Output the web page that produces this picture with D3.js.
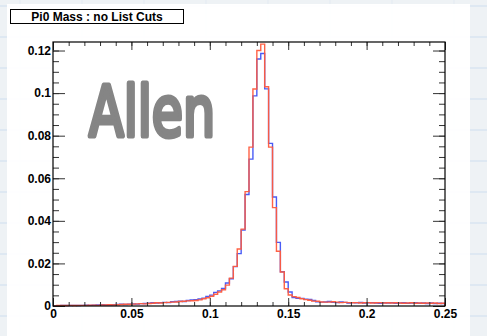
<!DOCTYPE html>
<html><head><meta charset="utf-8">
<script src="https://cdn.jsdelivr.net/npm/d3@7"></script>
<style>
html,body{margin:0;padding:0;background:#eef2f5;}
svg{display:block;}
</style></head>
<body>
<script>
// ---- data ----
const binWidth = 0.0025;
const binStart = 0;
const redValues = [
0.0000,0.0002,0.0002,0.0002,0.0003,0.0002,0.0003,0.0003,0.0003,0.0004,
0.0004,0.0003,0.0005,0.0005,0.0006,0.0005,0.0006,0.0007,0.0008,0.0008,
0.0009,0.0010,0.0011,0.0010,0.0012,0.0013,0.0015,0.0014,0.0016,0.0017,
0.0018,0.0019,0.0021,0.0022,0.0024,0.0025,0.0026,0.0029,0.0034,0.0039,
0.0046,0.0055,0.0066,0.0076,0.0098,0.0131,0.0186,0.0268,0.0361,0.0537,
0.0746,0.1019,0.1200,0.1230,0.1030,0.0746,0.0462,0.0257,0.0160,0.0081,
0.0052,0.0044,0.0040,0.0034,0.0030,0.0027,0.0023,0.0022,0.0019,0.0018,
0.0018,0.0020,0.0018,0.0016,0.0017,0.0016,0.0015,0.0016,0.0014,0.0015,
0.0016,0.0014,0.0015,0.0016,0.0014,0.0015,0.0014,0.0015,0.0014,0.0013,
0.0014,0.0015,0.0013,0.0014,0.0013,0.0014,0.0013,0.0014,0.0012,0.0013
];
const blueValues = [
0.0000,0.0001,0.0002,0.0002,0.0002,0.0003,0.0002,0.0003,0.0004,0.0003,
0.0004,0.0005,0.0006,0.0005,0.0005,0.0006,0.0007,0.0008,0.0007,0.0009,
0.0010,0.0009,0.0011,0.0012,0.0013,0.0015,0.0014,0.0016,0.0017,0.0016,
0.0020,0.0021,0.0023,0.0021,0.0026,0.0029,0.0030,0.0033,0.0037,0.0045,
0.0051,0.0064,0.0071,0.0082,0.0108,0.0128,0.0185,0.0246,0.0357,0.0524,
0.0690,0.0987,0.1160,0.1186,0.1020,0.0764,0.0512,0.0299,0.0161,0.0113,
0.0066,0.0040,0.0036,0.0036,0.0032,0.0031,0.0026,0.0020,0.0018,0.0019,
0.0021,0.0017,0.0016,0.0019,0.0017,0.0014,0.0016,0.0015,0.0017,0.0014,
0.0015,0.0016,0.0014,0.0013,0.0015,0.0014,0.0015,0.0013,0.0014,0.0015,
0.0013,0.0014,0.0015,0.0013,0.0014,0.0012,0.0014,0.0011,0.0013,0.0012
];
const xMajorTicks = [0, 0.05, 0.1, 0.15, 0.2, 0.25];
const xTickLabels = ["0","0.05","0.1","0.15","0.2","0.25"];
const yMajorTicks = [0, 0.02, 0.04, 0.06, 0.08, 0.1, 0.12];
const yTickLabels = ["0","0.02","0.04","0.06","0.08","0.1","0.12"];
const titleText = "Pi0 Mass : no List Cuts";
const stampText = "Allen";

// ---- layout ----
const W = 487, H = 336;
const L = 53, R = 445, T = 42, B = 306;
const svg = d3.select("body").append("svg").attr("width", W).attr("height", H);

// faint background pattern
const bg = svg.append("g");
d3.range(0, H, 31).forEach((yy) => {
  bg.append("line").attr("x1",0).attr("x2",W).attr("y1",yy+6).attr("y2",yy+6)
    .attr("stroke","#d9e5f1").attr("stroke-width",1.5);
});
d3.range(0, W, 62).forEach((xx) => {
  bg.append("line").attr("x1",xx+20).attr("x2",xx+20).attr("y1",0).attr("y2",H)
    .attr("stroke","#e3eaf2").attr("stroke-width",1);
});
svg.append("rect").attr("x",7).attr("y",4).attr("width",463).attr("height",H-4)
  .attr("fill","#ffffff").attr("opacity",0.95);

const x = d3.scaleLinear().domain([0, 0.25]).range([L, R]);
const y = d3.scaleLinear().domain([0, 0.124]).range([B, T]);

// plot area
svg.append("rect").attr("x",L).attr("y",T).attr("width",R-L).attr("height",B-T).attr("fill","#fff");

// stamp text
svg.append("text").attr("x", 89).attr("y", 136)
  .attr("font-family","'DejaVu Sans', sans-serif").attr("font-weight","normal")
  .attr("font-size",70).attr("fill","#858585")
  .attr("stroke","#858585").attr("stroke-width",5).attr("stroke-linejoin","round")
  .attr("stroke-linecap","round")
  .attr("textLength",126).attr("lengthAdjust","spacingAndGlyphs")
  .text(stampText);

// histograms
function stepPath(vals){
  const p = d3.path();
  p.moveTo(x(binStart), y(0));
  vals.forEach((v,i) => {
    const x0 = x(binStart + i*binWidth), x1 = x(binStart + (i+1)*binWidth);
    p.lineTo(x0, y(v));
    p.lineTo(x1, y(v));
  });
  p.lineTo(x(binStart + vals.length*binWidth), y(0));
  return p.toString();
}
svg.append("path").attr("d", stepPath(blueValues)).attr("fill","none")
  .attr("stroke","#4a5cf5").attr("stroke-width",1.4);
svg.append("path").attr("d", stepPath(redValues)).attr("fill","none")
  .attr("stroke","#ff5a3c").attr("stroke-width",1.4).attr("opacity",0.95);

// axes
const font = "'Liberation Sans', Arial, Helvetica, sans-serif";
const tickCol = "#333";
const yMinor = d3.range(0, 0.1226, 0.005);
const xMinor = d3.range(0, 0.2501, 0.01);

function styleAxis(g){
  g.select(".domain").remove();
  g.selectAll("line").attr("stroke", tickCol);
  g.selectAll("text").attr("font-family", font).attr("font-weight","bold")
    .attr("font-size",12).attr("fill","#000");
}
// left
svg.append("g").attr("transform",`translate(${L},0)`)
  .call(d3.axisLeft(y).tickValues(yMinor).tickSize(-6).tickFormat("")).call(styleAxis);
svg.append("g").attr("transform",`translate(${L},0)`)
  .call(d3.axisLeft(y).tickValues(yMajorTicks).tickSize(-12).tickPadding(2)
    .tickFormat((d,i)=>yTickLabels[i])).call(styleAxis);
// right
svg.append("g").attr("transform",`translate(${R},0)`)
  .call(d3.axisRight(y).tickValues(yMinor).tickSize(-6).tickFormat("")).call(styleAxis);
svg.append("g").attr("transform",`translate(${R},0)`)
  .call(d3.axisRight(y).tickValues(yMajorTicks).tickSize(-12).tickFormat("")).call(styleAxis);
// bottom
svg.append("g").attr("transform",`translate(0,${B})`)
  .call(d3.axisBottom(x).tickValues(xMinor).tickSize(-4).tickFormat("")).call(styleAxis);
svg.append("g").attr("transform",`translate(0,${B})`)
  .call(d3.axisBottom(x).tickValues(xMajorTicks).tickSize(-8).tickPadding(3)
    .tickFormat((d,i)=>xTickLabels[i])).call(styleAxis);
// top
svg.append("g").attr("transform",`translate(0,${T})`)
  .call(d3.axisTop(x).tickValues(xMinor).tickSize(-4).tickFormat("")).call(styleAxis);
svg.append("g").attr("transform",`translate(0,${T})`)
  .call(d3.axisTop(x).tickValues(xMajorTicks).tickSize(-8).tickFormat("")).call(styleAxis);

// frame
svg.append("rect").attr("x",L).attr("y",T).attr("width",R-L).attr("height",B-T)
  .attr("fill","none").attr("stroke","#000").attr("stroke-width",1.2);

// title box
svg.append("rect").attr("x",10.5).attr("y",9.5).attr("width",173).attr("height",14)
  .attr("fill","#fff").attr("stroke","#000").attr("stroke-width",1);
svg.append("text").attr("x",97).attr("y",21).attr("text-anchor","middle")
  .attr("font-family",font).attr("font-weight","bold").attr("font-size",12)
  .text(titleText);
</script>
</body></html>
